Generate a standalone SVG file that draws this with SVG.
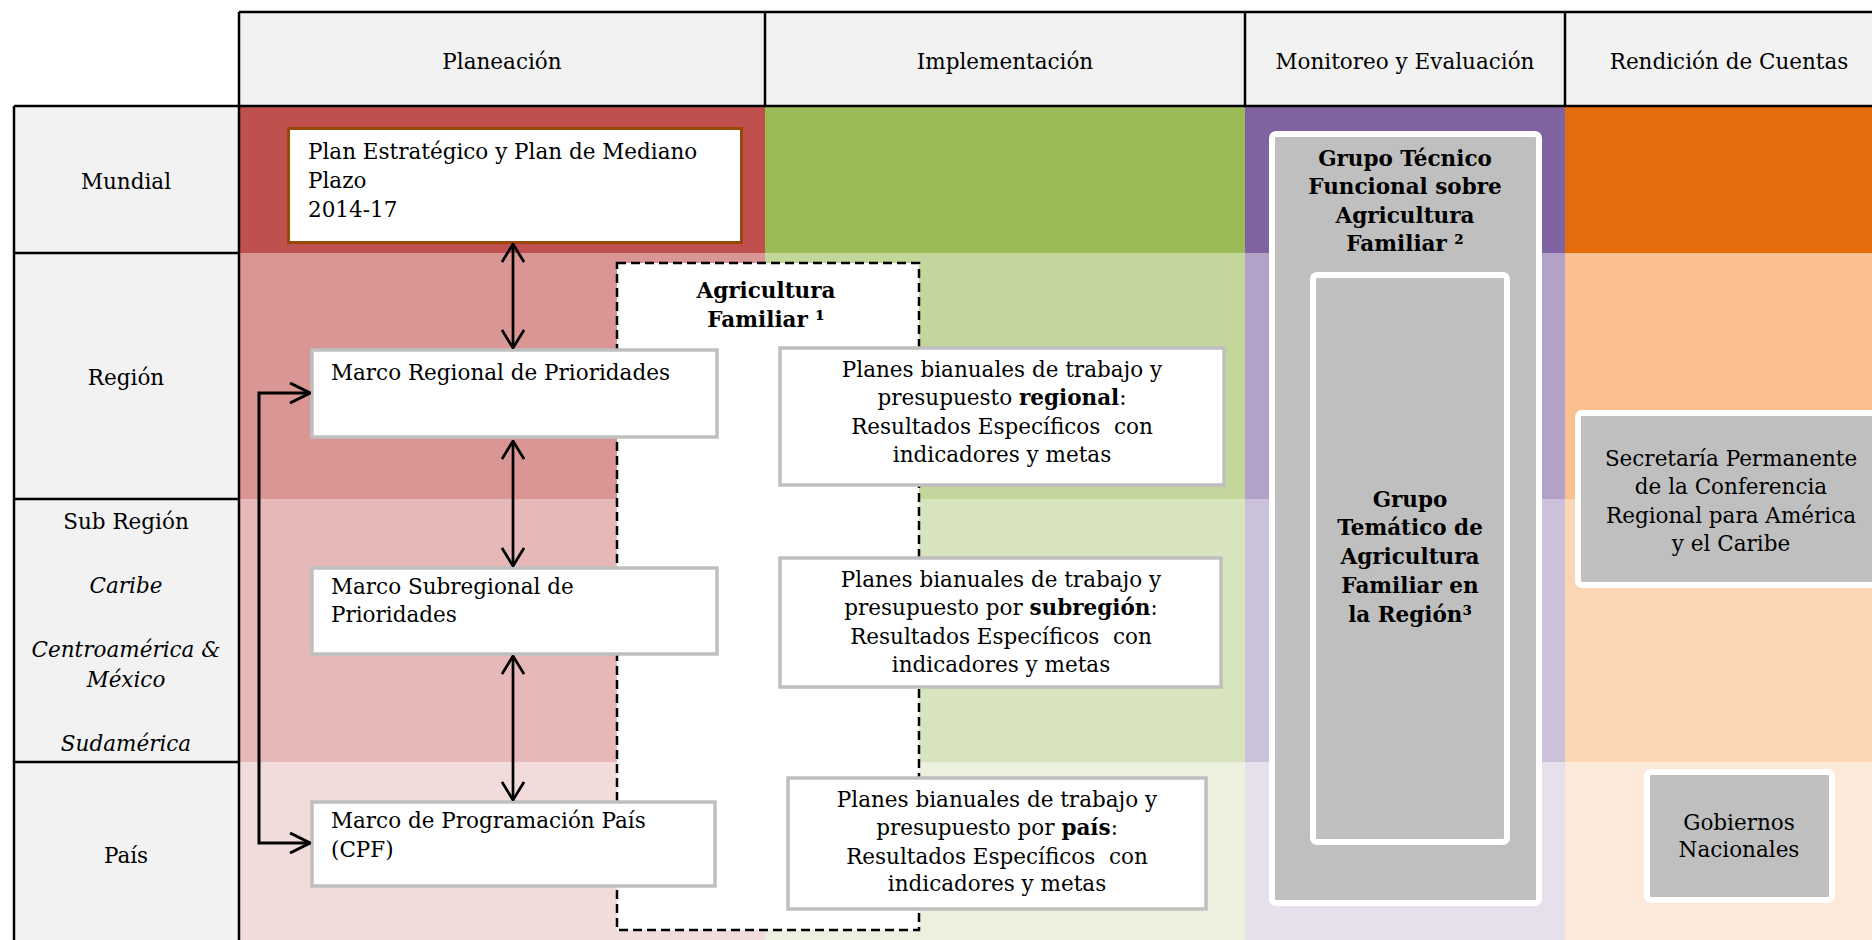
<svg xmlns="http://www.w3.org/2000/svg" width="1872" height="940" viewBox="0 0 1872 940">
<style>
.t{font-family:"DejaVu Serif","Liberation Serif",serif;font-size:21.5px;fill:#000}
.c{text-anchor:middle}
.b{font-weight:bold}
.i{font-style:italic}
.pre{white-space:pre}
.grid{stroke:#000;stroke-width:2.5;fill:none}
.box{fill:#fff;stroke:#bfbfbf;stroke-width:3.5}
.gbox{fill:#bfbfbf;stroke:#fff;stroke-width:6}
.arr{stroke:#000;stroke-width:2.7;fill:none}
.arr2{stroke:#000;stroke-width:3;fill:none}
</style>
<defs>
<marker id="ah" viewBox="0 0 20 24" refX="19" refY="12" markerWidth="20" markerHeight="24" markerUnits="userSpaceOnUse" orient="auto-start-reverse"><path d="M1,1 L19,12 L1,23" fill="none" stroke="#000" stroke-width="2.7"/></marker>
<marker id="ah2" viewBox="0 0 22 22" refX="21" refY="11" markerWidth="22" markerHeight="22" markerUnits="userSpaceOnUse" orient="auto-start-reverse"><path d="M1,1 L21,11 L1,21" fill="none" stroke="#000" stroke-width="3"/></marker>
</defs>
<rect width="1872" height="940" fill="#fff"/>
<g id="table">
<rect x="239" y="12" width="1633" height="94" fill="#f2f2f2"/>
<rect x="14" y="106" width="225" height="834" fill="#f2f2f2"/>
<rect x="239" y="106" width="526" height="147" fill="#c0504d"/>
<rect x="239" y="253" width="526" height="246" fill="#d99694"/>
<rect x="239" y="499" width="526" height="263" fill="#e6b9b8"/>
<rect x="239" y="762" width="526" height="178" fill="#f2dcdb"/>
<rect x="765" y="106" width="480" height="147" fill="#9bbb59"/>
<rect x="765" y="253" width="480" height="246" fill="#c3d69b"/>
<rect x="765" y="499" width="480" height="263" fill="#d7e4bd"/>
<rect x="765" y="762" width="480" height="178" fill="#ebf1de"/>
<rect x="1245" y="106" width="320" height="147" fill="#8064a2"/>
<rect x="1245" y="253" width="320" height="246" fill="#b2a2c7"/>
<rect x="1245" y="499" width="320" height="263" fill="#ccc1da"/>
<rect x="1245" y="762" width="320" height="178" fill="#e5e0ec"/>
<rect x="1565" y="106" width="307" height="147" fill="#e46c0a"/>
<rect x="1565" y="253" width="307" height="246" fill="#fac090"/>
<rect x="1565" y="499" width="307" height="263" fill="#fcd5b5"/>
<rect x="1565" y="762" width="307" height="178" fill="#fde9d9"/>
<path class="grid" d="M239,12 H1872 M14,106 H1872 M239,12 V940 M765,12 V106 M1245,12 V106 M1565,12 V106 M14,106 V940 M14,253 H239 M14,499 H239 M14,762 H239"/>
<text class="t c" x="502" y="69">Planeación</text>
<text class="t c" x="1005" y="69">Implementación</text>
<text class="t c" x="1405" y="69">Monitoreo y Evaluación</text>
<text class="t c" x="1729" y="69">Rendición de Cuentas</text>
<text class="t c" x="126" y="189">Mundial</text>
<text class="t c" x="126" y="385">Región</text>
<text class="t c" x="126" y="529">Sub Región</text>
<text class="t c i" x="126" y="593">Caribe</text>
<text class="t c i" x="126" y="657">Centroamérica &amp;</text>
<text class="t c i" x="126" y="687">México</text>
<text class="t c i" x="126" y="751">Sudamérica</text>
<text class="t c" x="126" y="863">País</text>
</g>
<g id="agricultura-familiar">
<rect x="617" y="263" width="302" height="667" fill="#fff" stroke="#000" stroke-width="2.5" stroke-dasharray="9 5"/>
<text class="t c b" x="766" y="298">Agricultura</text>
<text class="t c b" x="766" y="327">Familiar ¹</text>
</g>
<g id="plan-estrategico">
<rect x="288.5" y="128.5" width="453" height="114" fill="#fff" stroke="#984807" stroke-width="3"/>
<text class="t" x="308" y="159">Plan Estratégico y Plan de Mediano</text>
<text class="t" x="308" y="188">Plazo</text>
<text class="t" x="308" y="217">2014-17</text>
</g>
<g id="marco-regional">
<rect class="box" x="312" y="350" width="405" height="87"/>
<text class="t" x="331" y="380">Marco Regional de Prioridades</text>
</g>
<g id="marco-subregional">
<rect class="box" x="312" y="568" width="405" height="86"/>
<text class="t" x="331" y="594">Marco Subregional de</text>
<text class="t" x="331" y="622">Prioridades</text>
</g>
<g id="marco-pais">
<rect class="box" x="312" y="802" width="403" height="84"/>
<text class="t" x="331" y="828">Marco de Programación País</text>
<text class="t" x="331" y="857">(CPF)</text>
</g>
<g id="planes-regional">
<rect class="box" x="780" y="348" width="444" height="137"/>
<text class="t c" x="1002" y="377">Planes bianuales de trabajo y</text>
<text class="t c" x="1002" y="405">presupuesto <tspan class="b">regional</tspan>:</text>
<text class="t c pre" x="1002" y="434">Resultados Específicos  con</text>
<text class="t c" x="1002" y="462">indicadores y metas</text>
</g>
<g id="planes-subregion">
<rect class="box" x="780" y="558" width="441" height="129"/>
<text class="t c" x="1001" y="587">Planes bianuales de trabajo y</text>
<text class="t c" x="1001" y="615">presupuesto por <tspan class="b">subregión</tspan>:</text>
<text class="t c pre" x="1001" y="644">Resultados Específicos  con</text>
<text class="t c" x="1001" y="672">indicadores y metas</text>
</g>
<g id="planes-pais">
<rect class="box" x="788" y="778" width="418" height="131"/>
<text class="t c" x="997" y="807">Planes bianuales de trabajo y</text>
<text class="t c" x="997" y="835">presupuesto por <tspan class="b">país</tspan>:</text>
<text class="t c pre" x="997" y="864">Resultados Específicos  con</text>
<text class="t c" x="997" y="891">indicadores y metas</text>
</g>
<g id="grupo-tecnico">
<rect class="gbox" x="1272" y="134" width="267" height="769" rx="4"/>
<text class="t c b" x="1405" y="166">Grupo Técnico</text>
<text class="t c b" x="1405" y="194">Funcional sobre</text>
<text class="t c b" x="1405" y="223">Agricultura</text>
<text class="t c b" x="1405" y="251">Familiar ²</text>
</g>
<g id="grupo-tematico">
<rect class="gbox" x="1313" y="275" width="194" height="567" rx="4"/>
<text class="t c b" x="1410" y="507">Grupo</text>
<text class="t c b" x="1410" y="535">Temático de</text>
<text class="t c b" x="1410" y="564">Agricultura</text>
<text class="t c b" x="1410" y="593">Familiar en</text>
<text class="t c b" x="1410" y="622">la Región³</text>
</g>
<g id="secretaria">
<rect class="gbox" x="1578" y="413" width="310" height="172" rx="4"/>
<text class="t c" x="1731" y="466">Secretaría Permanente</text>
<text class="t c" x="1731" y="494">de la Conferencia</text>
<text class="t c" x="1731" y="523">Regional para América</text>
<text class="t c" x="1731" y="551">y el Caribe</text>
</g>
<g id="gobiernos">
<rect class="gbox" x="1647" y="772" width="185" height="128" rx="4"/>
<text class="t c" x="1739" y="830">Gobiernos</text>
<text class="t c" x="1739" y="857">Nacionales</text>
</g>
<g id="connectors">
<line class="arr" x1="513" y1="244" x2="513" y2="348" marker-start="url(#ah)" marker-end="url(#ah)"/>
<line class="arr" x1="513" y1="441" x2="513" y2="566" marker-start="url(#ah)" marker-end="url(#ah)"/>
<line class="arr" x1="513" y1="656" x2="513" y2="800" marker-start="url(#ah)" marker-end="url(#ah)"/>
<polyline class="arr2" points="310,393 259,393 259,843 310,843" marker-start="url(#ah2)" marker-end="url(#ah2)"/>
</g>
</svg>
